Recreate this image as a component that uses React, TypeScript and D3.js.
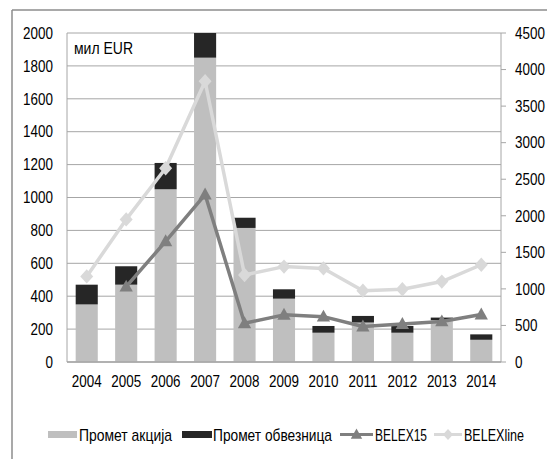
import React from "react";
import * as d3 from "d3";

const years = ["2004","2005","2006","2007","2008","2009","2010","2011","2012","2013","2014"];
const shares = [350, 470, 1050, 1850, 815, 385, 178, 240, 178, 255, 135];
const bonds = [120, 112, 160, 150, 62, 57, 41, 40, 41, 15, 33];
const belex15: (number | null)[] = [null, 1030, 1650, 2290, 530, 645, 620, 485, 520, 555, 650];
const belexline = [1170, 1950, 2650, 3840, 1190, 1305, 1280, 975, 995, 1100, 1330];
const leftTicks = [0, 200, 400, 600, 800, 1000, 1200, 1400, 1600, 1800, 2000];
const rightTicks = [0, 500, 1000, 1500, 2000, 2500, 3000, 3500, 4000, 4500];
const legendLabels = ["Промет акција", "Промет обвезница", "BELEX15", "BELEXline"];
const unitLabel = "мил EUR";

const W = 547, H = 459;
const L = 67, R = 501, T = 33, B = 362;
const FONT = "'Liberation Sans', Arial, sans-serif";
const SX = 0.84;

function T2({ x, y, anchor = "start", children, len, size = 16 }: { x: number; y: number; anchor?: string; children: React.ReactNode; len?: number; size?: number }) {
  if (len) {
    return (
      <text x={x} y={y} dy="0.36em" textLength={len} lengthAdjust="spacingAndGlyphs" fontSize={size} fill="#000">
        {children}
      </text>
    );
  }
  return (
    <text transform={`translate(${x},${y}) scale(${SX},1)`} dy="0.36em" textAnchor={anchor as any} fontSize={size} fill="#000">
      {children}
    </text>
  );
}

export default function App() {
  const x = d3.scaleBand<string>().domain(years).range([L, R]).paddingInner(0.44).paddingOuter(0.22);
  const yl = d3.scaleLinear().domain([0, 2000]).range([B, T]);
  const yr = d3.scaleLinear().domain([0, 4500]).range([B, T]);
  const cx = (y: string) => (x(y) as number) + x.bandwidth() / 2;

  const line = d3.line<[string, number | null]>()
    .defined(d => d[1] != null)
    .x(d => cx(d[0]))
    .y(d => yr(d[1] as number));

  const b15 = years.map((y, i) => [y, belex15[i]] as [string, number | null]);
  const bl = years.map((y, i) => [y, belexline[i]] as [string, number | null]);

  const tri = (px: number, py: number, s = 7) =>
    `M${px},${py - s} L${px + s * 0.95},${py + s * 0.7} L${px - s * 0.95},${py + s * 0.7} Z`;
  const dia = (px: number, py: number, s = 6.5) =>
    `M${px},${py - s * 1.1} L${px + s},${py} L${px},${py + s * 1.1} L${px - s},${py} Z`;

  const legY = 434.5;
  return (
    <svg width={W} height={H} style={{ position: "absolute", left: 0, top: 0, background: "#fff" }} fontFamily={FONT}>
      <rect x={0} y={0} width={W} height={H} fill="#fff" />
      {/* outer frame */}
      <line x1={12} y1={10} x2={W} y2={10} stroke="#8c8c8c" strokeWidth={1.5} />
      <line x1={12} y1={10} x2={12} y2={H} stroke="#8c8c8c" strokeWidth={1.5} />

      {/* gridlines */}
      {leftTicks.map(t => (
        <line key={t} x1={L} x2={R} y1={yl(t)} y2={yl(t)} stroke="#a6a6a6" strokeWidth={1} />
      ))}
      <line x1={L} x2={L} y1={T} y2={B} stroke="#a6a6a6" />
      <line x1={R} x2={R} y1={T} y2={B} stroke="#a6a6a6" />
      {rightTicks.map(t => (
        <line key={t} x1={R} x2={R + 5} y1={yr(t)} y2={yr(t)} stroke="#a6a6a6" />
      ))}

      {/* bars */}
      {years.map((y, i) => (
        <g key={y}>
          <rect x={x(y)} width={x.bandwidth()} y={yl(shares[i])} height={B - yl(shares[i])} fill="#bfbfbf" />
          <rect x={x(y)} width={x.bandwidth()} y={yl(shares[i] + bonds[i])} height={yl(shares[i]) - yl(shares[i] + bonds[i])} fill="#262626" />
        </g>
      ))}
      <line x1={L} x2={R} y1={B} y2={B} stroke="#a6a6a6" strokeWidth={1.5} />

      {/* lines */}
      <path d={line(bl) || ""} fill="none" stroke="#d9d9d9" strokeWidth={3.5} strokeLinejoin="round" />
      {bl.map(([y, v]) => <path key={y} d={dia(cx(y), yr(v as number))} fill="#d9d9d9" />)}
      <path d={line(b15) || ""} fill="none" stroke="#7f7f7f" strokeWidth={3.5} strokeLinejoin="round" />
      {b15.filter(d => d[1] != null).map(([y, v]) => <path key={y} d={tri(cx(y), yr(v as number))} fill="#7f7f7f" />)}

      {/* axes labels */}
      {leftTicks.map(t => <T2 key={t} x={53} y={yl(t)} anchor="end">{t}</T2>)}
      {rightTicks.map(t => <T2 key={t} x={515} y={yr(t)}>{t}</T2>)}
      {years.map(y => <T2 key={y} x={cx(y)} y={381} anchor="middle">{y}</T2>)}
      <T2 x={74} y={47.5} len={59} size={17}>{unitLabel}</T2>

      {/* legend */}
      <rect x={48} y={legY - 3.5} width={29} height={7} fill="#bfbfbf" />
      <T2 x={79} y={legY} len={93} size={17}>{legendLabels[0]}</T2>
      <rect x={182} y={legY - 3.5} width={30} height={7} fill="#262626" />
      <T2 x={213} y={legY} len={119} size={17}>{legendLabels[1]}</T2>
      <line x1={340} x2={373} y1={legY} y2={legY} stroke="#7f7f7f" strokeWidth={3} />
      <path d={tri(356.5, legY, 6)} fill="#7f7f7f" />
      <T2 x={375} y={legY} len={52} size={17}>{legendLabels[2]}</T2>
      <line x1={434} x2={462} y1={legY} y2={legY} stroke="#d9d9d9" strokeWidth={3} />
      <path d={dia(448, legY, 5)} fill="#d9d9d9" />
      <T2 x={464} y={legY} len={60} size={17}>{legendLabels[3]}</T2>
    </svg>
  );
}
